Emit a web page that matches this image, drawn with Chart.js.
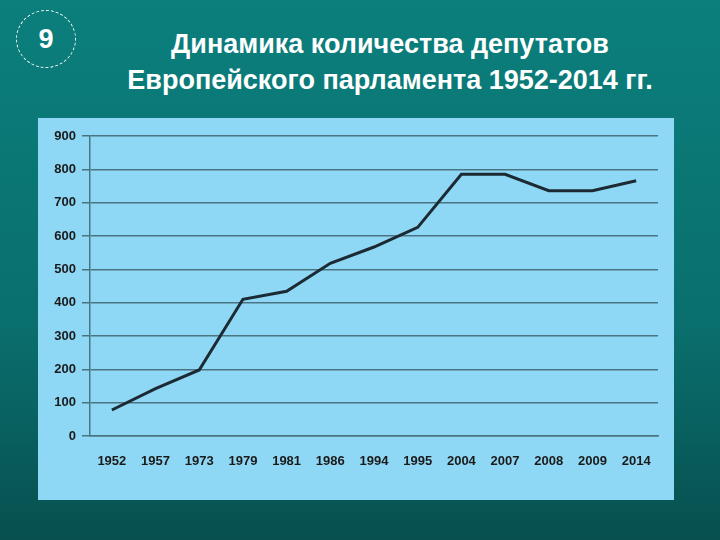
<!DOCTYPE html>
<html>
<head>
<meta charset="utf-8">
<script src="https://cdn.jsdelivr.net/npm/chart.js@4"></script>
<style>
  html, body { margin: 0; padding: 0; }
  body {
    width: 720px; height: 540px; position: relative; overflow: hidden;
    background: linear-gradient(to bottom, #0b7f7c 0%, #0a6f6e 60%, #07504f 100%);
    font-family: "Liberation Sans", Arial, sans-serif;
  }
  #badge {
    position: absolute; left: 16px; top: 10px; width: 58px; height: 56px;
    border: 1.5px dashed #ffffff; border-radius: 50%;
    color: #fff; font-weight: bold; font-size: 27px;
    display: flex; align-items: center; justify-content: center;
  }
  #title {
    position: absolute; left: 60px; top: 26px; width: 660px;
    text-align: center; color: #fff; font-weight: bold; font-size: 27px; line-height: 36px;
  }
  #panel {
    position: absolute; left: 38px; top: 118px; width: 636px; height: 382px;
    background: #8fd8f5;
  }
</style>
</head>
<body>
<div id="badge">9</div>
<div id="title">Динамика количества депутатов<br>Европейского парламента 1952-2014 гг.</div>
<div id="panel"><canvas id="chart" width="636" height="382"></canvas></div>
<script>
const years = ["1952", "1957", "1973", "1979", "1981", "1986", "1994", "1995", "2004", "2007", "2008", "2009", "2014"];
const deputies = [78, 142, 198, 410, 434, 518, 567, 626, 785, 785, 736, 736, 766];
const yTicks = [0, 100, 200, 300, 400, 500, 600, 700, 800, 900];

const tickFont = { family: "Liberation Sans, Arial, sans-serif", size: 13, weight: "bold" };

new Chart(document.getElementById("chart").getContext("2d"), {
  type: "line",
  data: {
    labels: years,
    datasets: [{
      data: deputies,
      borderColor: "#1c2a33",
      borderWidth: 3,
      pointRadius: 0,
      tension: 0,
      fill: false
    }]
  },
  options: {
    responsive: false,
    animation: false,
    layout: { padding: { top: 18, right: 16, left: 0, bottom: 0 } },
    scales: {
      x: {
        offset: true,
        grid: { display: false, drawTicks: true },
        border: { color: "#4a7482", width: 1.5 },
        ticks: { color: "#1a1a1a", font: tickFont, maxRotation: 0, autoSkip: false, padding: 10 },
        afterFit: (s) => { s.height = 64; }
      },
      y: {
        min: 0, max: 900,
        afterBuildTicks: (s) => { s.ticks = yTicks.map((v) => ({ value: v })); },
        grid: { color: "#4a7482", lineWidth: 1.5, tickLength: 8 },
        border: { color: "#4a7482", width: 1.5 },
        ticks: { color: "#1a1a1a", font: tickFont, padding: 6 },
        afterFit: (s) => { s.width = 52; }
      }
    },
    plugins: { legend: { display: false }, tooltip: { enabled: false } }
  }
});
</script>
</body>
</html>
